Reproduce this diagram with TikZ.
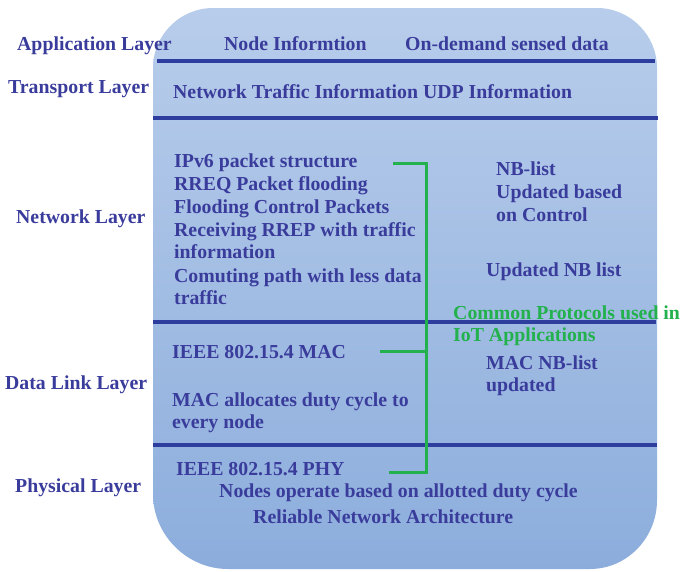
\documentclass[tikz,border=0pt]{standalone}
\usepackage{fontspec}
\setmainfont{Liberation Serif}
\definecolor{txt}{RGB}{58,60,156}
\definecolor{lyr}{RGB}{46,62,158}
\definecolor{grn}{RGB}{34,177,76}
\definecolor{ftop}{RGB}{184,205,235}
\definecolor{fbot}{RGB}{140,173,220}
\begin{document}
\begin{tikzpicture}[x=1pt,y=-1pt,
  lbl/.style={font=\bfseries\fontsize{19.8}{23}\selectfont, text=txt, inner sep=0pt, anchor=base west},
  glbl/.style={lbl, text=grn},
  sep/.style={draw=lyr, line width=3.4pt},
  gline/.style={draw=grn, line width=3pt}]
\useasboundingbox (0,0) rectangle (684,571);
% body
\shade[top color=ftop, bottom color=fbot]
  (153,68) .. controls (153,35) and (180,8) .. (213,8) -- (597,8)
  .. controls (630,8) and (657,35) .. (657,68) -- (657,500)
  .. controls (657,538) and (627,569) .. (590,569) -- (228,569)
  .. controls (187,569) and (153,535) .. (153,494) -- cycle;
% separators
\coordinate (s1a) at (157,61);  \coordinate (s1b) at (655,61);
\coordinate (s2a) at (153,118); \coordinate (s2b) at (658,118);
\coordinate (s3a) at (153,322); \coordinate (s3b) at (656,322);
\coordinate (s4a) at (153,445); \coordinate (s4b) at (657,445);
\draw[sep] (s1a) -- (s1b);
\draw[sep] (s2a) -- (s2b);
\draw[sep] (s3a) -- (s3b);
\draw[sep] (s4a) -- (s4b);
% layer names
\node[lbl] (app) at (17,50) {Application Layer};
\node[lbl] (tr) at (8,93) {Transport Layer};
\node[lbl] (nl) at (16,223) {Network Layer};
\node[lbl] (dll) at (5,389) {Data Link Layer};
\node[lbl] (pl) at (15,492) {Physical Layer};
% application
\node[lbl] (ni) at (224,50) {Node Informtion};
\node[lbl] (od) at (405,50) {On-demand sensed data};
% transport
\node[lbl] (nt) at (173,98) {Network Traffic Information UDP Information};
% network
\node[lbl] (l1) at (174,167) {IPv6 packet structure};
\node[lbl] (l2) at (174,190) {RREQ Packet flooding};
\node[lbl] (l3) at (174,213) {Flooding Control Packets};
\node[lbl] (l4) at (174,236) {Receiving RREP with traffic};
\node[lbl] (l5) at (174,258) {information};
\node[lbl] (l6) at (174,282) {Comuting path with less data};
\node[lbl] (l7) at (174,304) {traffic};
\node[lbl] (nb1) at (496,175) {NB-list};
\node[lbl] (nb2) at (496,198) {Updated based};
\node[lbl] (nb3) at (496,221) {on Control};
\node[lbl] (unb) at (486,276) {Updated NB list};
\node[glbl] (cp1) at (453,319) {Common Protocols used in};
\node[glbl] (cp2) at (453,341) {IoT Applications};
% data link
\node[lbl] (mac) at (172,358) {IEEE 802.15.4 MAC};
\node[lbl] (mnb1) at (486,369) {MAC NB-list};
\node[lbl] (mnb2) at (486,391) {updated};
\node[lbl] (ma1) at (172,406) {MAC allocates duty cycle to};
\node[lbl] (ma2) at (172,428) {every node};
% physical
\node[lbl] (phy) at (176,475) {IEEE 802.15.4 PHY};
\node[lbl] (nod) at (219,497) {Nodes operate based on allotted duty cycle};
\node[lbl] (rel) at (253,523) {Reliable Network Architecture};
% green bracket
\coordinate (g1) at (393,163);
\coordinate (gt) at (426,163);
\coordinate (g2) at (380,351);
\coordinate (gm) at (426,351);
\coordinate (g3) at (389,472);
\coordinate (gb) at (426,472);
\draw[gline, line join=miter] (g1) -- (gt) -- (gb) -- (g3);
\draw[gline] (g2) -- (gm);
\end{tikzpicture}
\end{document}
